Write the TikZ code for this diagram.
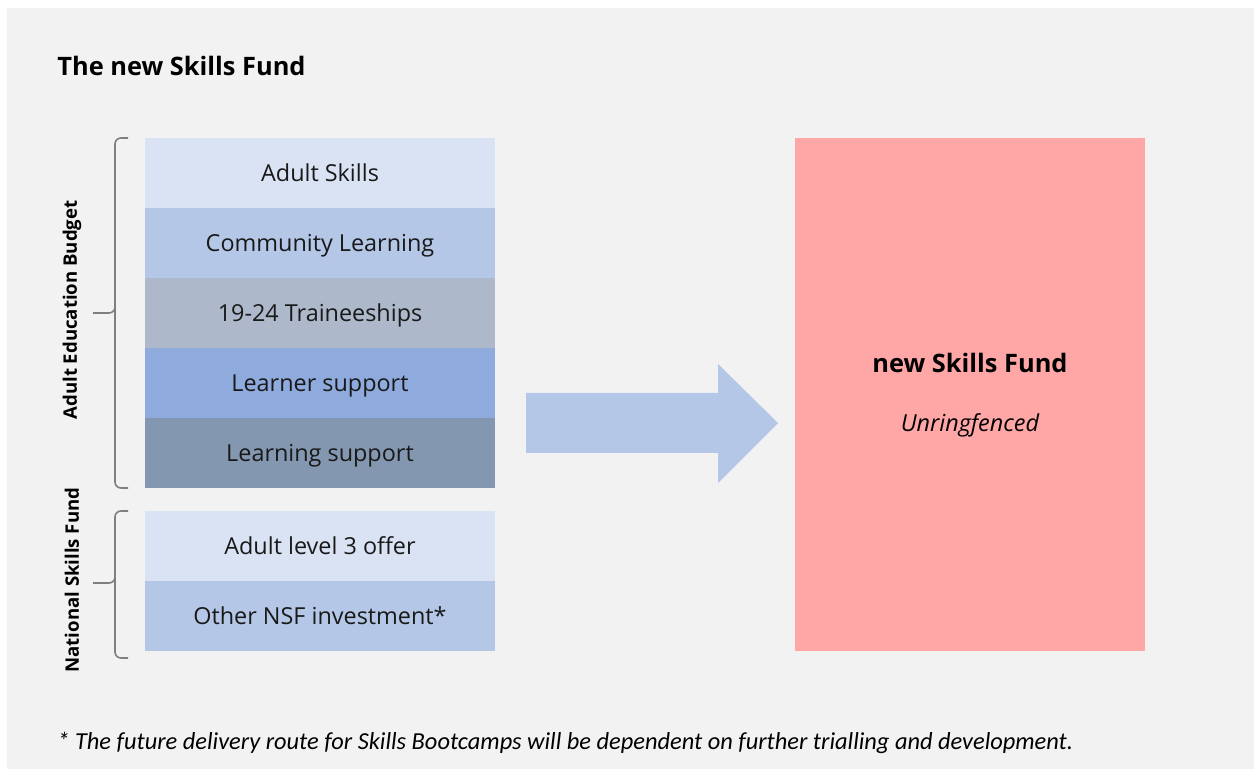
\documentclass[tikz,border=0pt]{standalone}
\usepackage{fontspec}
\setmainfont{Open Sans}
\newfontfamily\notefont{Carlito}
\usepackage{xcolor}

\definecolor{bgGray}{HTML}{F2F2F2}
\definecolor{paleBlue}{HTML}{DAE3F3}
\definecolor{lightBlue}{HTML}{B4C7E7}
\definecolor{greyBlue}{HTML}{ADB9CA}
\definecolor{midBlue}{HTML}{8FAADC}
\definecolor{slateBlue}{HTML}{8497B0}
\definecolor{fundPink}{HTML}{FFA6A6}
\definecolor{braceGray}{HTML}{7F7F7F}

\begin{document}
\begin{tikzpicture}[
    x=0.5pt, y=-0.5pt,
    font=\fontsize{11.7}{14}\selectfont,
    budget/.style={inner sep=0pt, minimum width=175pt, minimum height=35pt,
        text height=10pt, text depth=1.6pt, text=black!90},
    sidelabel/.style={rotate=90, font=\fontsize{9.3}{11}\selectfont\bfseries},
    brace/.style={draw=braceGray, line width=0.8pt, rounded corners=3pt},
]

% Canvas
\useasboundingbox (0,0) rectangle (1254,769);
\fill[bgGray] (7,8) rectangle (1254,769);

% Title
\node[anchor=west, inner sep=0pt, font=\fontsize{12.7}{15}\selectfont\bfseries] (title) at (57,66) {The new Skills Fund};

% Adult Education Budget items
\node[budget, fill=paleBlue]  (adultskills)  at (320,173) {Adult Skills};
\node[budget, fill=lightBlue] (community)    at (320,243) {Community Learning};
\node[budget, fill=greyBlue]  (traineeships) at (320,313) {19-24 Traineeships};
\node[budget, fill=midBlue]   (learner)      at (320,383) {Learner support};
\node[budget, fill=slateBlue] (learning)     at (320,453) {Learning support};

% National Skills Fund items
\node[budget, fill=paleBlue]  (level3)   at (320,546) {Adult level 3 offer};
\node[budget, fill=lightBlue] (otherNSF) at (320,616) {Other NSF investment*};

% Braces
\draw[brace] (128,138) -- (115,138) -- (115,313) -- (93,313);
\draw[brace] (115,300) -- (115,488) -- (128,488);
\draw[brace] (128,511) -- (115,511) -- (115,583) -- (93,583);
\draw[brace] (115,570) -- (115,658) -- (128,658);

% Side labels
\node[sidelabel] (aeb) at (72,310) {Adult Education Budget};
\node[sidelabel] (nsf) at (72,580) {National Skills Fund};

% Big arrow
\fill[lightBlue] (526,393) -- (718,393) -- (718,364) -- (778,423)
    -- (718,483) -- (718,453) -- (526,453) -- cycle;

% new Skills Fund box
\node[fill=fundPink, inner sep=0pt, minimum width=175pt, minimum height=256.5pt] (newfund) at (970,394.5) {};
\node[font=\fontsize{12.7}{15}\selectfont\bfseries] (fundname) at (970,363) {new Skills Fund};
\node[font=\fontsize{11.7}{14}\selectfont\itshape, text height=10pt, text depth=1.6pt] (ringfence) at (970,423) {Unringfenced};

% Footnote
\node[anchor=west, inner sep=0pt, font=\notefont\fontsize{12.2}{14}\selectfont\itshape] (note) at (57,743)
    {* The future delivery route for Skills Bootcamps will be dependent on further trialling and development.};

\end{tikzpicture}
\end{document}
